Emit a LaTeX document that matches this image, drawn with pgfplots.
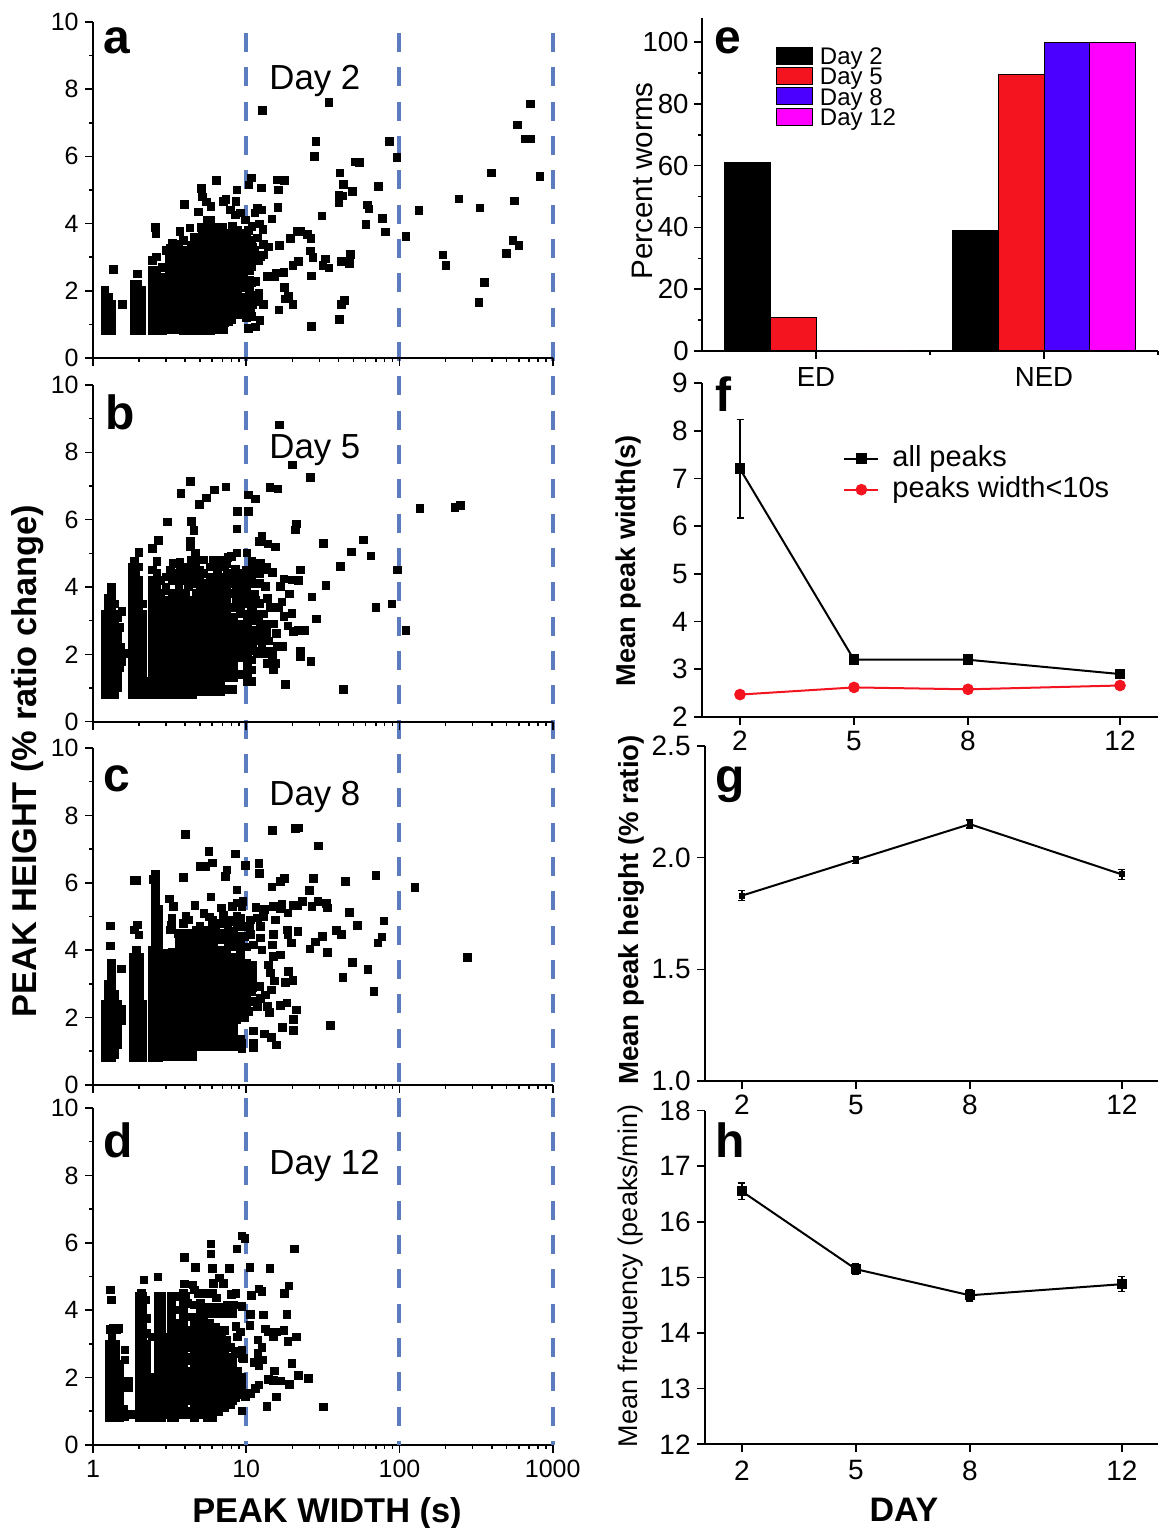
\documentclass[border=0pt]{standalone}
\usepackage{fontspec}
\setmainfont{Liberation Sans}
\usepackage{pgfplots}
\pgfplotsset{compat=1.18}
\pgfkeys{/pgf/number format/assume math mode=true}
\definecolor{dashc}{RGB}{91,124,190}
\definecolor{bred}{RGB}{243,20,32}
\definecolor{bblue}{RGB}{75,0,255}
\definecolor{bmag}{RGB}{255,0,255}
\newcommand\fs[1]{\fontsize{#1}{#1}\selectfont}
\newcommand\patch[1]{\addlegendimage{legend image code/.code={\filldraw[draw=black,fill=#1,line width=.5pt] (0pt,-3.1pt) rectangle (18pt,5.4pt); \node at (20.5pt,0){};}}}
\pgfplotsset{
 baseax/.style={scale only axis, axis lines=left, axis line style={-,line width=.85pt},
  tick align=outside, major tick length=4pt, minor tick length=2pt,
  tick style={black,line width=.8pt}, clip=false},
 leftax/.style={baseax, xmin=1, xmax=1000, ymin=0, ymax=10, ytick={0,2,4,6,8,10}, minor y tick num=1,
  xtick={1,10,100,1000}, width=229.85pt, height=168pt,
  ticklabel style={font=\fs{12.5}, inner sep=0pt},
  yticklabel style={xshift=-3pt}, xticklabel style={yshift=-3.5pt}},
 rightax/.style={baseax, xmin=1, xmax=13, xtick={2,5,8,12}, ticklabel style={font=\fs{14}, inner sep=0pt},
  yticklabel style={xshift=-3pt}, xticklabel style={yshift=-3pt}},
 sc/.style={only marks, mark=square*, mark size=1.9pt, black, mark options={draw=black,fill=black,line width=0pt}}
}
\begin{document}
\begin{tikzpicture}
\useasboundingbox (0,0) rectangle (579.5pt,764pt);
% ---------- d
\begin{axis}[xmode=log, leftax, at={(46.5pt,41.5pt)}, anchor=south west, height=168.5pt, xticklabels={1,10,100,1000}]
\addplot[color=dashc,line width=2pt,dash pattern=on 9.5pt off 7.67pt] coordinates {(10,41.9) (10,0)};
\addplot[color=dashc,line width=2pt,dash pattern=on 9.5pt off 7.67pt] coordinates {(100,41.9) (100,0)};
\addplot[color=dashc,line width=2pt,dash pattern=on 9.5pt off 7.67pt] coordinates {(1000,41.9) (1000,0)};
\addplot[sc] table {
1.28 0.8
1.28 1
1.28 1.2
1.28 1.4
1.28 1.6
1.28 1.8
1.28 2
1.28 2.2
1.33 0.8
1.33 1
1.33 1.2
1.33 1.4
1.33 1.6
1.33 1.8
1.33 2
1.33 2.2
1.33 2.4
1.33 2.6
1.33 2.8
1.33 3
1.33 3.2
1.4 0.8
1.4 1
1.4 1.2
1.4 1.4
1.4 1.6
1.4 1.8
1.4 2
1.4 2.2
1.4 2.4
1.4 2.6
1.5 0.8
1.5 1
1.5 1.2
1.5 1.4
1.5 1.6
1.5 1.8
1.5 2
1.5 2.2
1.3 4.6
1.32 4.3
1.3 3.42
1.36 3.45
1.42 3.42
1.47 3.45
1.62 2.82
1.62 2.52
1.71 1.7
1.7 1.88
1.62 0.85
1.8 0.9
1.58 1.05
2 0.8
2 1
2 1.2
2 1.4
2 1.6
2 1.8
2 2
2 2.2
2 2.4
2 2.6
2 2.8
2 3
2 3.2
2 3.4
2 3.6
2 3.8
2 4
2 4.2
2 4.4
2.12 0.8
2.12 1
2.12 1.2
2.12 1.4
2.12 1.6
2.12 1.8
2.12 2
2.12 2.2
2.12 2.4
2.12 2.6
2.12 2.8
2.12 3.4
2.12 4.4
2.08 4.5
2.25 0.8
2.25 1
2.25 1.2
2.25 1.4
2.25 1.6
2.25 1.8
2.25 3.3
2.25 3.76
2.2 4.3
2.42 0.8
2.42 1.2
2.42 1.6
2.42 1.8
2.42 2
2.42 3.2
2.65 0.8
2.65 1
2.65 1.2
2.65 1.4
2.65 1.6
2.65 1.8
2.65 2
2.65 2.2
2.65 2.4
2.65 2.6
2.65 2.8
2.65 3
2.65 3.2
2.65 3.4
2.65 3.6
2.65 3.8
2.65 4
2.65 4.2
2.65 4.4
2.8 0.8
2.8 1
2.8 1.2
2.8 1.4
2.8 1.6
2.8 1.8
2.8 2
2.8 2.2
2.8 2.4
2.8 2.6
2.8 2.8
2.8 3
2.8 3.2
3 0.9
3 1.3
3 1.7
3 2.1
3 2.5
3 2.9
3 3.2
3.25 0.8
3.25 1
3.25 1.2
3.25 1.4
3.25 1.6
3.25 1.8
3.25 2
3.25 2.2
3.25 2.4
3.25 2.6
3.25 2.8
3.25 3
3.25 3.2
3.25 3.4
3.25 3.6
3.25 3.8
3.25 4
3.25 4.2
3.25 4.4
3.4 0.8
3.4 1
3.4 1.2
3.4 1.4
3.4 1.6
3.4 1.8
3.4 2
3.4 2.2
3.4 2.4
3.4 2.8
3.4 3.2
3.4 3.6
3.4 4
3.4 4.4
3.65 1
3.65 1.4
3.65 1.8
3.65 2.2
3.65 2.6
3.9 0.9
3.9 1.1
3.9 1.3
3.9 1.5
3.9 1.7
3.9 1.9
3.9 2.1
3.9 2.3
3.9 2.5
3.9 2.7
3.9 2.9
3.9 3.1
3.9 3.3
3.9 3.5
3.9 3.7
3.9 3.9
3.9 4.1
3.9 4.3
3.9 4.5
4.15 1
4.15 1.6
4.15 2
4.15 2.6
4.15 3.2
4.15 3.8
4.15 4.2
3.95 5.56
3.97 4.78
4.6 0.8
4.6 1
4.6 1.2
4.6 1.4
4.6 1.6
4.6 1.8
4.6 2
4.6 2.2
4.6 2.4
4.6 2.6
4.6 2.8
4.6 3
4.6 3.2
4.6 3.4
4.6 3.6
4.6 3.8
4.6 4.16
4.66 5.27
4.5 4.75
4.6 4.6
4.9 4.5
5.3 4.5
5.05 0.9
5.05 1.2
5.05 1.4
5.05 1.6
5.05 1.8
5.05 2
5.05 2.2
5.05 2.4
5.05 2.6
5.05 2.8
5.05 3
5.05 3.2
5.05 3.4
5.05 3.8
5.55 0.8
5.55 1
5.55 1.2
5.55 1.4
5.55 1.6
5.55 1.8
5.55 2
5.55 2.2
5.55 2.4
5.55 2.6
5.55 2.8
5.55 3
5.55 3.2
5.55 3.4
5.55 3.9
5.55 4.1
6.05 0.8
6.05 1
6.05 1.2
6.05 1.4
6.05 1.6
6.05 1.8
6.05 2
6.05 2.2
6.05 2.4
6.05 2.6
6.05 2.8
6.05 3
6.05 3.2
6.05 3.5
6.05 3.9
6.05 4.1
6.05 4.5
6.6 1
6.6 1.2
6.6 1.4
6.6 1.6
6.6 1.8
6.6 2
6.6 2.2
6.6 2.4
6.6 2.6
6.6 2.8
6.6 3.4
6.6 3.9
7.2 1.1
7.2 1.3
7.2 1.5
7.2 1.7
7.2 1.9
7.2 2.1
7.2 2.3
7.2 2.5
7.2 2.7
7.2 2.9
7.2 3.1
7.2 3.4
7.9 1.2
7.9 1.4
7.9 1.6
7.9 1.8
7.9 2
7.9 2.2
7.9 2.4
7.9 2.9
8.6 1.4
8.6 1.6
8.6 1.8
8.6 2
9.4 1.5
9.4 1.7
9.4 1.9
9.4 6.2
9.8 6.13
8.7 5.82
5.9 5.96
5.9 5.67
20.7 5.82
6 5.23
7.8 5.24
10.6 5.27
14.3 5.24
2.15 4.9
2.65 4.98
6.7 4.95
6.1 4.8
7.1 4.8
19 4.72
17.8 4.5
12.1 4.63
12.7 4.55
10.8 4.44
8.6 4.5
8 4.46
18.5 3.88
13 3.86
10.7 3.88
10.6 3.54
8.6 3.51
9.2 3.35
13.4 3.44
14 3.35
15 3.22
15.9 3.35
17.6 3.39
21.3 3.21
18.7 3.07
11.9 3.12
12.7 2.89
11.9 2.72
12.8 2.52
11.3 2.45
12.1 2.36
19.9 2.42
15.3 2.19
21.9 2.06
25.4 1.98
14 1.95
15 1.92
16.7 1.9
19.2 1.8
32 1.13
15.7 1.43
13.7 1.14
9.4 1.01
12.1 1.78
11.5 1.68
10.7 1.53
9.9 1.44
9.2 1.88
9.6 2.57
9.4 2.82
8.5 2.77
7.7 2.57
8.7 2.18
9.4 4.11
8.3 4.16
7.5 4.16
6.8 3.96
6.4 4.36
1.28 2.4
1.28 2.6
1.28 2.8
1.28 3
1.4 2.8
1.4 3
1.5 2.4
2.12 3
2.12 3.2
2.12 3.6
2.12 3.8
2.12 4
2.12 4.2
2.25 2
2.25 2.2
2.25 2.4
2.25 2.6
2.25 2.8
2.25 3
2.35 0.9
2.35 1.1
2.35 1.3
2.35 1.5
2.35 1.9
2.8 3.4
2.8 3.6
2.8 3.8
2.8 4
2.8 4.2
2.8 4.4
3 1.1
3 1.5
3 1.9
3 2.3
3 2.7
3 3
3.55 1.2
3.55 1.6
3.55 2
3.55 2.4
3.55 2.8
3.55 3
3.55 3.4
4.05 1
4.05 1.4
4.05 1.8
4.05 2.2
4.05 2.6
4.05 3
4.05 3.4
4.05 3.8
4.05 4.2
4.05 4.4
4.3 0.9
4.3 1.3
4.3 1.7
4.3 2.1
4.3 2.5
4.3 2.9
4.85 1
4.85 1.4
4.85 1.8
4.85 2.2
4.85 2.6
4.85 3
4.85 3.4
4.85 3.8
5.05 3.6
5.05 4.05
5.05 4.2
5.3 1
5.3 1.4
5.3 1.8
5.3 2.2
5.3 2.6
5.3 3
5.3 3.3
5.3 3.5
5.3 3.7
5.3 4
5.8 1
5.8 1.4
5.8 1.8
5.8 2.2
5.8 2.6
5.8 3
5.8 3.3
5.8 3.6
5.8 3.9
5.8 4.1
6.3 1
6.3 1.4
6.3 1.8
6.3 2.2
6.3 2.6
6.3 3
6.3 3.3
6.3 3.5
6.3 3.9
6.3 4.1
6.9 1.1
6.9 1.5
6.9 1.9
6.9 2.3
6.9 2.7
6.9 3
6.9 3.2
6.9 3.4
6.9 3.9
6.9 4.1
7.5 1.2
7.5 1.6
7.5 2
7.5 2.4
7.5 2.6
7.5 3.1
7.5 3.9
7.5 4.1
8.2 1.3
8.2 1.7
8.2 2.1
8.2 2.3
8.2 2.5
8.2 3.9
8.2 4.1
8.8 1.5
8.8 1.8
8.8 2
8.8 2.2
8.8 2.7
8.8 3.2
9.4 2
9.4 2.6
};
\end{axis}
% ---------- c
\begin{axis}[xmode=log, leftax, at={(46.5pt,221.5pt)}, anchor=south west, height=168.5pt, xticklabels={}]
\addplot[sc] table {
1.2 0.8
1.2 1
1.2 1.2
1.2 1.4
1.2 1.6
1.2 1.8
1.2 2
1.2 2.2
1.2 2.4
1.26 0.8
1.26 1
1.26 1.2
1.26 1.4
1.26 1.6
1.26 1.8
1.26 2
1.26 2.2
1.26 2.4
1.26 2.6
1.26 2.8
1.26 3
1.32 0.8
1.32 1
1.32 1.2
1.32 1.4
1.32 1.6
1.32 1.8
1.32 2
1.32 2.2
1.32 2.4
1.32 2.6
1.32 2.8
1.32 3
1.32 3.2
1.32 3.4
1.32 3.6
1.39 0.9
1.39 1.1
1.39 1.3
1.39 1.5
1.39 1.7
1.39 1.9
1.39 2.1
1.39 2.3
1.39 2.5
1.39 2.7
1.46 1.2
1.46 1.4
1.46 1.6
1.46 1.8
1.46 2
1.46 2.2
1.46 2.4
1.55 1.9
1.55 2.1
1.55 2.25
1.3 4.72
1.3 4.13
1.53 3.44
1.82 0.8
1.82 1
1.82 1.2
1.82 1.4
1.82 1.6
1.82 1.8
1.82 2
1.82 2.2
1.82 2.4
1.82 2.6
1.82 2.8
1.82 3
1.82 3.2
1.82 3.4
1.82 3.6
1.82 3.8
1.92 0.8
1.92 1
1.92 1.2
1.92 1.4
1.92 1.6
1.92 1.8
1.92 2
1.92 2.2
1.92 2.4
1.92 2.6
1.92 2.8
1.92 3
1.92 3.2
1.92 3.4
1.92 3.6
1.92 3.8
1.92 4
2.02 0.8
2.02 1
2.02 1.2
2.02 1.4
2.02 1.6
2.02 1.8
2.02 2
2.02 2.2
2.02 2.4
2.02 2.6
2.02 2.8
2.02 3
2.02 3.2
2.02 3.4
2.02 3.6
2.02 3.8
2.12 0.8
2.12 1
2.12 1.2
2.12 1.4
2.12 1.6
2.12 1.8
2.12 2
2.12 2.2
2.12 2.4
1.86 6.07
1.92 6.07
1.96 4.75
1.86 4.6
2 4.45
2.45 0.8
2.45 1
2.45 1.2
2.45 1.4
2.45 1.6
2.45 1.8
2.45 2
2.45 2.2
2.45 2.4
2.45 2.6
2.45 2.8
2.45 3
2.45 3.2
2.45 3.4
2.45 3.6
2.45 3.8
2.45 4
2.55 0.8
2.55 1
2.55 1.2
2.55 1.4
2.55 1.6
2.55 1.8
2.55 2
2.55 2.2
2.55 2.4
2.55 2.6
2.55 2.8
2.55 3
2.55 3.2
2.55 3.4
2.55 3.6
2.55 3.8
2.55 4
2.55 4.2
2.55 4.4
2.55 4.6
2.55 4.8
2.55 5
2.55 5.2
2.55 5.4
2.55 5.6
2.55 5.8
2.55 6
2.55 6.25
2.47 6.1
2.68 0.8
2.68 1
2.68 1.2
2.68 1.4
2.68 1.6
2.68 1.8
2.68 2
2.68 2.2
2.68 2.4
2.68 2.6
2.68 2.8
2.68 3
2.68 3.2
2.68 3.4
2.68 3.6
2.68 3.8
2.68 4
2.68 4.2
2.68 4.4
2.68 4.6
2.68 4.8
2.68 5
2.68 5.2
3 0.85
3 1.1
3 1.3
3 1.5
3 1.7
3 1.9
3 2.1
3 2.3
3 2.5
3 2.7
3 2.9
3 3.1
3 3.3
3 3.5
3 3.7
3 3.9
3.3 0.85
3.3 1.1
3.3 1.3
3.3 1.5
3.3 1.7
3.3 1.9
3.3 2.1
3.3 2.3
3.3 2.5
3.3 2.7
3.3 2.9
3.3 3.1
3.3 3.3
3.3 3.5
3.3 3.7
3.3 3.95
3.16 5.52
3.36 5.3
3.27 4.95
3.2 4.6
3.25 4.75
3.65 0.85
3.65 1.1
3.65 1.3
3.65 1.5
3.65 1.7
3.65 1.9
3.65 2.1
3.65 2.3
3.65 2.5
3.65 2.7
3.65 2.9
3.65 3.1
3.65 3.3
3.65 3.5
3.65 3.7
3.65 3.9
3.65 4.1
3.65 4.3
4.05 0.85
4.05 1.1
4.05 1.3
4.05 1.5
4.05 1.7
4.05 1.9
4.05 2.1
4.05 2.3
4.05 2.5
4.05 2.7
4.05 2.9
4.05 3.1
4.05 3.3
4.05 3.5
4.05 3.7
4.05 3.9
4.05 4.1
4.05 4.3
4.05 5
4.5 0.85
4.5 1.1
4.5 1.3
4.5 1.5
4.5 1.7
4.5 1.9
4.5 2.1
4.5 2.3
4.5 2.5
4.5 2.7
4.5 2.9
4.5 3.1
4.5 3.3
4.5 3.5
4.5 3.7
4.5 3.9
4.5 4.1
4.5 4.3
4.5 4.5
5 1.15
5 1.35
5 1.55
5 1.75
5 1.95
5 2.15
5 2.35
5 2.55
5 2.75
5 2.95
5 3.15
5 3.35
5 3.55
5 3.75
5 3.95
5 4.2
5.55 1.15
5.55 1.35
5.55 1.55
5.55 2.15
5.55 2.35
5.55 2.55
5.55 2.75
5.55 2.95
5.55 3.15
5.55 3.35
5.55 3.55
5.55 3.95
5.55 4.15
5.55 4.4
6.15 1.15
6.15 1.35
6.15 1.55
6.15 2
6.15 2.2
6.15 2.4
6.15 2.6
6.15 2.8
6.15 3
6.15 3.2
6.15 3.4
6.15 3.6
6.15 3.8
6.15 4
6.15 4.2
6.15 4.5
6.8 1.15
6.8 1.35
6.8 1.55
6.8 2
6.8 2.2
6.8 2.4
6.8 2.6
6.8 2.8
6.8 3
6.8 3.2
6.8 3.4
6.8 3.6
6.8 3.8
6.8 4
6.8 4.3
7.5 1.15
7.5 1.35
7.5 1.55
7.5 1.75
7.5 2
7.5 2.2
7.5 2.4
7.5 2.6
7.5 2.8
7.5 3
7.5 3.2
7.5 3.4
7.5 3.6
7.5 3.8
7.5 4
8.3 1.15
8.3 1.35
8.3 1.55
8.3 1.75
8.3 2
8.3 2.4
8.3 2.6
8.3 2.8
8.3 3
8.3 3.2
8.3 3.4
8.3 3.6
8.3 3.8
9.2 1.15
9.2 1.35
9.2 2.3
9.2 2.5
9.2 2.7
9.2 2.9
9.2 3.1
9.2 3.3
9.2 3.5
9.2 3.8
9.2 4
9.2 4.4
10 2.4
10 2.6
10 2.8
10 3
10 3.2
10 3.6
10 4.1
11 2.9
11 3.1
11 3.3
11 3.55
4.03 7.43
14.8 7.55
20.9 7.62
22.1 7.63
29.7 7.09
5.7 6.92
8.5 6.85
6 6.59
5 6.48
5.4 6.48
9.9 6.52
12.1 6.57
12.2 6.27
7.5 6.38
7.3 6.18
3.9 6.16
70.4 6.22
126 5.86
44.4 6.04
27.6 6.13
17.8 6.13
16.7 6.03
14.7 5.87
25.8 5.77
8.7 5.79
5.9 5.58
4.63 5.32
6.9 5.25
5.3 5.09
5.75 4.98
8.1 5.3
8.7 5.4
9.5 5.45
9.4 5.3
11.6 5.27
13.1 5.2
15.1 5.3
17.1 5.35
16.6 5.23
18.7 5.1
20.4 5.32
21.7 5.33
23.3 5.45
26.9 5.3
29.4 5.45
33.4 5.38
33.9 5.25
47.2 5.12
53 4.74
79.4 4.87
77 4.39
72.6 4.21
38.8 4.58
41.8 4.46
31.4 4.4
28.3 4.24
26.1 4.04
33.9 3.94
21.8 4.56
18.6 4.6
18.7 4.46
19.7 4.21
49.3 3.63
62.4 3.43
42.7 3.19
68 2.77
35.4 1.76
279 3.79
18.8 3.36
20.2 3.1
18 3.04
21.2 2.22
18.5 2.43
16.7 2.36
20.4 1.95
17.3 1.71
20.3 1.62
15.7 1.19
14.6 1.41
13.1 1.51
11.2 1.6
11.2 1.24
11.2 1.11
14.2 2.16
13.8 2.33
11.8 2.33
12.4 2.57
12.2 2.92
14.6 2.82
13.3 2.67
15.3 3.09
14.4 3.32
14 3.56
16.7 3.86
15.1 3.81
14.9 4.16
15.1 4.46
12.7 4.01
11.2 4.16
12.4 4.36
10.7 4.46
12.4 4.7
11.8 4.95
13 5
15.5 4.9
10.7 4.9
9.2 4.95
8.1 4.85
8.3 4.55
7.1 5.05
6.3 4.7
9.4 2.28
8.7 1.93
10.4 2.18
10.9 2.48
10.9 2.77
10.7 3.27
10.4 3.56
9.4 1.24
9.4 1.09
3.6 4.5
3.9 4.5
3.9 4.8
4.2 4.5
4.2 4.9
4.7 4.3
4.7 4.6
5 4.4
5 4.7
5.3 4.4
5.3 4.6
5.6 4.6
6 4.3
6 4.7
6 4.9
6.5 4.5
6.8 4.5
6.8 4.8
7.2 4.3
7.2 4.5
7.2 4.9
7.6 4.2
7.6 4.5
7.6 4.7
8 4.1
8 4.3
8 4.9
8.7 3.8
8.7 4.1
8.7 4.3
8.7 4.7
8.7 5
9.2 3.6
9.2 4.2
9.8 4.4
9.8 4.7
10.5 2.9
10.5 4.7
10.5 3.4
10.5 3.2
5.55 1.75
5.55 1.95
5.55 3.75
6.15 1.75
6.8 1.75
8.3 2.2
9.2 2.1
9.8 2
9.8 2.3
9.8 2.6
};
\end{axis}
% ---------- b
\begin{axis}[xmode=log, leftax, at={(46.5pt,403.15pt)}, anchor=south west, height=168.35pt, xticklabels={}]
\addplot[sc] table {
1.2 0.8
1.2 1
1.2 1.2
1.2 1.4
1.2 1.6
1.2 1.8
1.2 2
1.2 2.2
1.2 2.4
1.2 2.6
1.2 2.8
1.2 3
1.2 3.2
1.26 0.8
1.26 1
1.26 1.2
1.26 1.4
1.26 1.6
1.26 1.8
1.26 2
1.26 2.2
1.26 2.4
1.26 2.6
1.26 2.8
1.26 3
1.26 3.2
1.26 3.4
1.26 3.65
1.32 0.8
1.32 1
1.32 1.2
1.32 1.4
1.32 1.6
1.32 1.8
1.32 2
1.32 2.2
1.32 2.4
1.32 2.6
1.32 2.8
1.32 3
1.32 3.2
1.32 3.4
1.32 3.6
1.32 3.8
1.32 4
1.39 0.8
1.39 1
1.39 1.2
1.39 1.4
1.39 1.6
1.39 1.8
1.39 2
1.39 2.2
1.39 2.4
1.39 2.6
1.39 2.8
1.39 3
1.39 3.2
1.39 3.5
1.46 1
1.46 1.2
1.46 1.4
1.46 1.6
1.46 1.8
1.46 2
1.46 2.2
1.46 2.4
1.46 2.6
1.46 3.1
1.55 3.27
1.59 2.03
1.55 1.78
1.8 0.8
1.8 1
1.8 1.2
1.8 1.4
1.8 1.6
1.8 1.8
1.8 2
1.8 2.2
1.8 2.4
1.8 2.6
1.8 2.8
1.8 3
1.8 3.2
1.8 3.4
1.8 3.6
1.8 3.8
1.8 4
1.8 4.2
1.8 4.4
1.8 4.6
1.86 4.75
1.9 0.8
1.9 1
1.9 1.2
1.9 1.4
1.9 1.6
1.9 1.8
1.9 2
1.9 2.2
1.9 2.4
1.9 2.6
1.9 2.8
1.9 3
1.9 3.2
1.9 3.4
1.9 3.6
1.9 3.8
1.9 4
1.9 4.2
1.9 4.4
2 0.8
2 1
2 1.2
2 1.4
2 1.6
2 1.8
2 2
2 2.2
2 2.4
2 2.6
2 2.8
2 3
2 3.2
2 3.4
2 3.6
2 3.8
2 4
2 4.2
2 4.6
2 5.03
2.12 0.8
2.12 1
2.12 1.2
2.12 1.4
2.12 1.6
2.12 1.8
2.12 2
2.12 2.2
2.12 2.4
2.12 2.6
2.12 2.8
2.12 3
2.12 3.2
2.12 3.5
2.45 0.8
2.45 1
2.45 1.2
2.45 1.4
2.45 1.6
2.45 1.8
2.45 2
2.45 2.2
2.45 2.4
2.45 2.6
2.45 2.8
2.45 3
2.45 3.2
2.45 3.4
2.45 3.6
2.45 3.8
2.45 4
2.45 4.2
2.45 4.5
2.62 0.8
2.62 1
2.62 1.2
2.62 1.4
2.62 1.6
2.62 1.8
2.62 2
2.62 2.2
2.62 2.4
2.62 2.6
2.62 2.8
2.62 3
2.62 3.2
2.62 3.4
2.62 3.6
2.62 3.8
2.62 4
2.62 4.2
2.62 4.4
2.62 4.75
2.78 0.8
2.78 1
2.78 1.2
2.78 1.4
2.78 1.6
2.78 1.8
2.78 2
2.78 2.2
2.78 2.4
2.78 2.6
2.78 2.8
2.78 3
2.78 3.2
2.78 3.4
2.78 3.6
2.78 3.8
2.78 4.2
3 0.8
3 1
3 1.2
3 1.4
3 1.6
3 1.8
3 2
3 2.2
3 2.4
3 2.6
3 2.8
3 3
3 3.2
3 3.4
3 3.6
3 3.9
3.3 0.8
3.3 1
3.3 1.2
3.3 1.4
3.3 1.6
3.3 1.8
3.3 2
3.3 2.2
3.3 2.4
3.3 2.6
3.3 2.8
3.3 3
3.3 3.2
3.3 3.4
3.3 3.6
3.3 3.8
3.3 4.2
3.36 4.7
3.65 0.8
3.65 1
3.65 1.2
3.65 1.4
3.65 1.6
3.65 1.8
3.65 2
3.65 2.2
3.65 2.4
3.65 2.6
3.65 2.8
3.65 3
3.65 3.2
3.65 3.4
3.65 3.6
3.65 3.8
3.65 4
3.65 4.2
3.65 4.4
3.7 4.72
4.05 0.8
4.05 1
4.05 1.2
4.05 1.4
4.05 1.6
4.05 1.8
4.05 2
4.05 2.2
4.05 2.4
4.05 2.6
4.05 2.8
4.05 3
4.05 3.2
4.05 3.4
4.05 3.6
4.05 3.8
4.05 4.2
4.05 4.4
4.5 0.8
4.5 1
4.5 1.2
4.5 1.4
4.5 1.6
4.5 1.8
4.5 2
4.5 2.2
4.5 2.4
4.5 2.6
4.5 2.8
4.5 3
4.5 3.2
4.5 3.4
4.5 3.6
4.5 4.1
4.5 4.3
4.5 4.6
5 0.9
5 1.1
5 1.3
5 1.5
5 1.7
5 1.9
5 2.1
5 2.3
5 2.5
5 2.7
5 2.9
5 3.1
5 3.3
5 3.5
5 3.7
5 4.1
5 4.3
5 4.5
5 4.8
5.55 0.9
5.55 1.1
5.55 1.3
5.55 1.5
5.55 1.7
5.55 1.9
5.55 2.1
5.55 2.3
5.55 2.5
5.55 2.7
5.55 2.9
5.55 3.1
5.55 3.3
5.55 3.5
5.55 3.7
5.55 3.9
6.15 0.9
6.15 1.1
6.15 1.3
6.15 1.5
6.15 1.7
6.15 1.9
6.15 2.1
6.15 2.3
6.15 2.5
6.15 2.7
6.15 2.9
6.15 3.1
6.15 3.3
6.15 3.5
6.15 3.7
6.15 3.9
6.15 4.3
6.15 4.6
6.8 0.9
6.8 1.1
6.8 1.3
6.8 1.5
6.8 1.7
6.8 1.9
6.8 2.1
6.8 2.3
6.8 2.5
6.8 2.7
6.8 2.9
6.8 3.1
6.8 3.3
6.8 3.5
6.8 3.7
6.8 3.9
6.8 4.3
6.8 4.6
7.5 0.95
7.5 1.3
7.5 1.5
7.5 1.7
7.5 1.9
7.5 2.1
7.5 2.3
7.5 2.5
7.5 2.7
7.5 2.9
7.5 3.1
7.5 3.3
7.5 3.5
7.5 3.7
7.5 3.9
7.5 4.1
7.5 4.4
8.3 1.3
8.3 1.5
8.3 1.7
8.3 1.9
8.3 2.1
8.3 2.3
8.3 2.5
8.3 2.7
8.3 2.9
8.3 3.1
8.3 3.4
8.3 3.8
8.3 4.1
9.2 1.4
9.2 1.9
9.2 2.1
9.2 2.3
9.2 2.5
9.2 2.7
9.2 2.9
9.2 3.2
9.2 3.6
9.2 4
10.2 1.2
10.2 1.4
10.2 1.6
10.2 1.8
10.2 2
10.2 2.2
10.2 2.4
10.2 2.6
10.2 2.8
10.2 3
10.2 3.2
10.2 3.5
10.2 4.2
11 2.1
11 2.3
11 2.5
11 2.7
11 3
11 3.4
12 2.1
12 2.4
12 2.7
12 3
13.5 2.1
13.5 2.4
13.5 2.7
16.5 8.81
20.1 7.62
26.2 7.26
4.34 7.14
3.75 6.77
6.2 6.88
5.5 6.64
4.95 6.45
7.4 6.97
14.3 6.96
16.1 6.91
10.3 6.73
11.5 6.61
8.8 6.25
10.3 6.25
3.07 5.93
4.39 5.94
4.56 5.68
8.7 5.72
21.3 5.87
20.9 5.69
2.68 5.38
2.45 5.15
4.32 5.35
4.32 5.2
4.66 5
8.7 5.01
10.1 5.01
12.7 5.5
12.2 5.35
13.9 5.28
15.5 5.19
32 5.29
48.6 5.04
58.2 5.4
65.3 4.92
41.2 4.61
97 4.5
136 6.33
230 6.36
250 6.42
33.2 4.04
26.9 3.7
70.4 3.39
89.6 3.49
110 2.71
28.7 3.05
43.3 0.95
18 1.1
26.4 1.78
22.6 1.93
22.6 2.08
24.1 2.7
22 2.7
20.4 2.67
19.9 3.22
17.6 3.12
18.7 2.84
19.1 3.79
22.6 4.5
22 4.19
20.1 4.21
17.6 4.24
16.7 4.01
17.1 3.56
16.3 3.4
14.4 3.4
13.8 3.66
13.3 4.01
14.8 4.43
13.7 4.6
12.4 4.7
10.9 4.75
12.2 3.51
11.4 3.79
17.3 2.23
15.9 2.23
15.7 2.62
13.7 2.62
15.5 1.73
13.7 1.73
15.1 1.55
14.8 1.98
13.3 2.03
12.4 2.82
12.7 2.33
11.8 2.03
10.9 1.83
10.9 1.53
10.9 1.19
8.2 0.96
6.1 4.8
7.6 4.88
6.8 4.75
8.5 4.52
3 4
3 4.3
3.2 4.3
3.2 4.5
3.4 4.4
3.7 4.6
3.9 4.6
4.2 4
4.2 4.6
4.4 4.4
4.4 4.8
4.7 3.8
4.7 4.4
4.7 4.7
5 3.9
5.3 4.1
5.3 4.4
5.3 4.8
5.8 4.1
5.8 4.3
5.8 4.6
6.15 4.1
6.5 4.2
6.5 4.5
6.5 4.8
6.8 4.1
7.2 4.3
7.2 4.6
7.2 4.8
7.5 4.7
8 4.2
8 4.4
8 4.9
8.6 3.5
8.6 3.7
8.6 4
8.6 4.3
8.6 4.5
9.2 3.4
9.2 3.8
9.2 4.2
9.2 4.4
10 3.6
10 3.8
10 4
10 4.3
10 4.5
10.8 3.1
10.8 3.3
10.8 3.6
10.8 4.2
10.8 4.5
11.5 3.2
11.5 3.6
11.5 4.1
11.5 4.4
11.5 4.6
12.2 2.1
12.2 2.55
12.2 3.2
12.2 4.1
12.2 4.4
13 2.9
13 3.2
13 4.5
14 2.4
14 2.9
14 2.1
15 2.9
1.5 2.8
1.5 1.6
1.52 2.2
2.2 0.8
2.2 1
2.2 1.2
};
\end{axis}
% ---------- a
\begin{axis}[xmode=log, leftax, at={(46.5pt,585pt)}, anchor=south west, xticklabels={}]
\addplot[sc] table {
1.2 0.8
1.2 1
1.2 1.2
1.2 1.4
1.2 1.6
1.2 1.8
1.2 2
1.27 0.8
1.27 1
1.27 1.2
1.27 1.4
1.27 1.6
1.27 1.8
1.33 0.8
1.33 1
1.33 1.2
1.33 1.4
1.33 1.6
1.36 2.64
1.56 1.6
1.85 0.8
1.85 1
1.85 1.2
1.85 1.4
1.85 1.6
1.85 1.8
1.85 2
1.85 2.2
1.95 0.8
1.95 1
1.95 1.2
1.95 1.4
1.95 1.6
1.95 1.8
1.95 2
1.95 2.2
1.95 2.5
2.07 0.8
2.07 1
2.07 1.2
2.07 1.4
2.07 1.6
2.07 1.8
2.07 2
2.45 0.8
2.45 1
2.45 1.2
2.45 1.4
2.45 1.6
2.45 1.8
2.45 2
2.45 2.2
2.45 2.4
2.45 2.6
2.45 2.9
2.6 0.8
2.6 1
2.6 1.2
2.6 1.4
2.6 1.6
2.6 1.8
2.6 2
2.6 2.2
2.6 2.4
2.6 2.6
2.6 3
2.85 0.8
2.85 1
2.85 1.2
2.85 1.4
2.85 1.6
2.85 1.8
2.85 2
2.85 2.2
2.85 2.4
2.85 2.7
3.15 0.85
3.15 1.05
3.15 1.25
3.15 1.45
3.15 1.65
3.15 1.85
3.15 2.05
3.15 2.25
3.15 2.45
3.15 2.65
3.15 2.85
3.15 3.05
3.5 0.85
3.5 1.05
3.5 1.25
3.5 1.45
3.5 1.65
3.5 1.85
3.5 2.05
3.5 2.25
3.5 2.45
3.5 2.65
3.5 2.85
3.5 3.15
3.9 0.8
3.9 1
3.9 1.2
3.9 1.4
3.9 1.6
3.9 1.8
3.9 2
3.9 2.2
3.9 2.4
3.9 2.6
3.9 2.8
3.9 3
4.35 0.8
4.35 1
4.35 1.2
4.35 1.4
4.35 1.6
4.35 1.8
4.35 2
4.35 2.2
4.35 2.4
4.35 2.6
4.35 2.8
4.35 3
4.35 3.35
4.8 0.8
4.8 1
4.8 1.2
4.8 1.4
4.8 1.6
4.8 1.8
4.8 2
4.8 2.2
4.8 2.4
4.8 2.6
4.8 2.8
4.8 3
4.8 3.2
5.3 0.8
5.3 1
5.3 1.2
5.3 1.4
5.3 1.6
5.3 1.8
5.3 2
5.3 2.2
5.3 2.4
5.3 2.6
5.3 2.8
5.3 3
5.3 3.2
5.3 3.4
5.3 3.6
5.85 0.8
5.85 1
5.85 1.2
5.85 1.4
5.85 1.6
5.85 1.8
5.85 2
5.85 2.2
5.85 2.4
5.85 2.6
5.85 2.8
5.85 3
5.85 3.2
5.85 3.4
5.85 3.6
5.85 3.8
6.5 0.85
6.5 1.05
6.5 1.25
6.5 1.45
6.5 1.65
6.5 1.85
6.5 2.05
6.5 2.25
6.5 2.45
6.5 2.65
6.5 2.85
6.5 3.05
6.5 3.25
6.5 3.45
6.5 3.65
7.2 1.05
7.2 1.25
7.2 1.45
7.2 1.65
7.2 1.85
7.2 2.05
7.2 2.25
7.2 2.45
7.2 2.65
7.2 2.85
7.2 3.05
7.2 3.25
7.2 3.65
8 1.15
8 1.35
8 1.55
8 1.75
8 1.95
8 2.25
8 2.45
8 2.65
8 2.85
8 3.05
8 3.25
8 3.5
8.8 1.3
8.8 1.5
8.8 1.7
8.8 1.9
8.8 2.4
8.8 2.6
8.8 2.8
8.8 3
8.8 3.2
8.8 3.4
9.6 1.4
9.6 1.6
9.6 1.8
9.6 2.1
9.6 2.5
9.6 2.7
9.6 2.9
9.6 3.1
9.6 3.4
9.6 3.7
10.5 1.4
10.5 1.6
10.5 1.8
10.5 2.6
10.5 2.85
10.5 3.1
10.5 3.4
12.8 7.37
34.6 7.61
28.6 6.45
27.9 6
86 6.44
96.6 5.97
51.4 5.83
55 5.81
40.8 5.5
43.3 5.16
49.3 4.95
73.3 5.1
40.2 4.84
42.9 4.82
40.2 4.62
62 4.55
63.4 4.44
77.8 4.16
60.6 3.97
81 3.75
31.3 4.22
110 3.61
134 4.39
244 4.73
336 4.46
398 5.51
563 4.67
589 6.93
716 7.56
665 6.52
720 6.52
828 5.41
552 3.49
601 3.35
500 3.11
192 3.06
201 2.75
359 2.25
330 1.66
48 3.08
47.2 2.82
41.8 2.88
34.6 2.68
32.9 2.95
31.6 2.76
27.3 2.99
26.2 3.19
26.5 3.56
25.2 3.67
22.8 3.77
21.5 3.77
19.5 3.56
21.9 2.88
20.2 2.76
26.6 2.44
17.8 2.09
18.9 1.85
18.1 1.75
20.2 1.6
16.4 1.43
43.7 1.71
41.8 1.6
40.6 1.14
26.6 0.94
17.6 2.55
15.7 2.53
13.7 2.43
15.3 2.43
16.5 3.35
14.7 4.14
16.1 4.48
16.3 5
15.9 5.3
17.8 5.29
12.6 5.06
10.8 5.36
10.4 5.15
8.7 5
6.4 5.29
5.1 5.04
3.95 4.57
4.9 4.35
5.2 4.79
5.5 4.64
5.9 4.51
7.1 4.66
7.4 4.71
8.6 4.66
7.9 4.41
8.5 4.26
9.2 4.31
11.8 4.46
12.7 4.41
11.4 4.31
12.2 3.99
12.9 3.82
5.9 4.11
9.9 4.11
10.9 3.91
5.1 3.88
4.3 3.87
3.7 3.77
2.55 3.89
2.57 3.7
3.2 3.27
3.6 3.37
4.5 3.34
8.1 3.91
6.8 3.82
11.8 3.57
13 3.37
14 3.3
12.4 3.02
13 3.07
10.9 2.73
10.9 2.23
11.5 2.28
12.1 1.93
10.9 1.88
12.1 1.68
13 1.59
10.7 1.34
10.9 1.24
12.3 1.12
11.5 0.92
10.3 0.88
7.1 0.84
7.7 1.09
3 3.2
3.3 3.4
3.6 3.1
3.9 3.2
3.9 3.5
4.2 3.1
4.6 3.2
4.6 3.6
4.9 3.4
4.9 3.6
5.2 3.8
5.5 3.9
5.6 4.1
5.5 3.5
6.1 3.9
6.3 3.7
6.8 3.4
6.8 3.6
7 3.9
7.5 3.5
7.5 3.7
7.9 3.7
8.5 3.6
8.8 3.8
9.2 3.6
9.9 3.3
10 3.6
10.3 3.8
10.8 3.5
11 3.3
11.4 3.2
11 3
11.4 2.9
12 2.9
10.5 2.3
10.5 2.1
9.6 2.3
8.8 2.1
8.8 2.25
8 2.1
10.5 2
11 1.6
11.5 1.8
10 1.2
};
\end{axis}
% ---------- e
\begin{axis}[baseax, at={(351pt,588.5pt)}, anchor=south west, width=228pt, height=166.5pt,
  xmin=0.5, xmax=2.5, ymin=0, ymax=107.8, ytick={0,20,40,60,80,100}, minor y tick num=1,
  xtick={1,2}, xticklabels={ED,NED}, minor xtick={1.5,2.5},
  ticklabel style={font=\fs{13.8}, inner sep=0pt}, yticklabel style={xshift=-2.5pt}, xticklabel style={yshift=-4pt},
  ybar=0pt, bar width=0.2,
  legend style={draw=none, fill=none, at={(0.1616,0.915)}, anchor=north west, font=\fs{12},
    inner sep=0pt, row sep=-0.75pt, nodes={inner sep=0pt, text height=8.6pt, text depth=1.9pt}},
  legend cell align=left]
\addplot[fill=black,draw=black,line width=.5pt,forget plot,bar shift=-0.3] coordinates {(1,61) (2,39)};
\addplot[fill=bred,draw=black,line width=.5pt,forget plot,bar shift=-0.1] coordinates {(1,10.7) (2,89.4)};
\addplot[fill=bblue,draw=black,line width=.5pt,forget plot,bar shift=0.1] coordinates {(1,0) (2,100)};
\addplot[fill=bmag,draw=black,line width=.5pt,forget plot,bar shift=0.3] coordinates {(1,0) (2,100)};
\patch{black}
\addlegendentry{Day 2}
\patch{bred}
\addlegendentry{Day 5}
\patch{bblue}
\addlegendentry{Day 8}
\patch{bmag}
\addlegendentry{Day 12}
\end{axis}
% ---------- f
\begin{axis}[rightax, at={(351pt,405.5pt)}, anchor=south west, width=228pt, height=167pt,
  ymin=2, ymax=9, ytick={2,3,4,5,6,7,8,9},
  legend style={draw=none, fill=none, at={(0.309,0.727)}, anchor=west, font=\fs{14.5},
    inner sep=0pt, row sep=1.5pt, nodes={inner sep=0pt, text height=11pt, text depth=3pt}},
  legend cell align=left]
\addplot[black,line width=1pt,mark=square*,mark size=2.2pt,
  error bars/.cd, y dir=both, y explicit, error bar style={line width=.7pt,black}, error mark options={rotate=90,mark size=1.75pt,line width=.7pt}]
  coordinates {(2,7.2) +- (0,1.03) (5,3.2) +- (0,0.08) (8,3.2) +- (0,0.08) (12,2.9) +- (0,0.05)};
\addplot[bred,line width=1pt,mark=*,mark size=2.4pt] coordinates {(2,2.47) (5,2.62) (8,2.58) (12,2.66)};
\addlegendentry{\hspace{6.5pt}all peaks}
\addlegendentry{\hspace{6.5pt}peaks width<10s}
\end{axis}
% ---------- g
\begin{axis}[rightax, at={(352.5pt,223.5pt)}, anchor=south west, width=226.5pt, height=167.5pt,
  xmin=1.03, xmax=12.95, ymin=1, ymax=2.5, ytick={1,1.5,2,2.5},
  yticklabel style={/pgf/number format/.cd,fixed,fixed zerofill,precision=1}]
\addplot[black,line width=1pt,mark=square*,mark size=1pt,
  error bars/.cd, y dir=both, y explicit, error bar style={line width=.7pt,black}, error mark options={rotate=90,mark size=1.75pt,line width=.7pt}]
  coordinates {(2,1.83) +- (0,0.022) (5,1.99) +- (0,0.015) (8,2.15) +- (0,0.018) (12,1.925) +- (0,0.022)};
\end{axis}
% ---------- h
\begin{axis}[rightax, at={(352.5pt,41.85pt)}, anchor=south west, width=226.5pt, height=166.8pt,
  xmin=1.03, xmax=12.95, ymin=12, ymax=18, ytick={12,13,14,15,16,17,18},
  xticklabel style={yshift=-1pt}]
\addplot[black,line width=1pt,mark=square*,mark size=2pt,
  error bars/.cd, y dir=both, y explicit, error bar style={line width=.7pt,black}, error mark options={rotate=90,mark size=1.75pt,line width=.7pt}]
  coordinates {(2,16.55) +- (0,0.15) (5,15.15) +- (0,0.1) (8,14.68) +- (0,0.1) (12,14.88) +- (0,0.135)};
\end{axis}
% ---------- text
\begin{scope}[x=0.5pt,y=-0.5pt,yshift=764pt]
\tikzset{n/.style={inner sep=0pt,anchor=base west}}
\node[n,font=\fs{24}\bfseries] at (103.5,54) {a};
\node[n,font=\fs{24}\bfseries] at (105,430) {b};
\node[n,font=\fs{24}\bfseries] at (103,792) {c};
\node[n,font=\fs{24}\bfseries] at (103,1158) {d};
\node[n,font=\fs{24}\bfseries] at (714,54) {e};
\node[n,font=\fs{24}\bfseries] at (715,412) {f};
\node[n,font=\fs{24}\bfseries] at (715,793) {g};
\node[n,font=\fs{24}\bfseries] at (715,1158) {h};
\node[n,font=\fs{17.4}] at (269,90) {Day 2};
\node[n,font=\fs{17.4}] at (269,459) {Day 5};
\node[n,font=\fs{17.4}] at (269,806) {Day 8};
\node[n,font=\fs{17.4}] at (269,1175) {Day 12};
\node[inner sep=0pt,rotate=90,font=\fs{17.2}\bfseries] at (28,761) {PEAK HEIGHT (\% ratio change)};
\node[inner sep=0pt,anchor=base,font=\fs{17.2}\bfseries] at (327,1523) {PEAK WIDTH (s)};
\node[inner sep=0pt,anchor=base,font=\fs{17}\bfseries] at (904,1522) {DAY};
\node[inner sep=0pt,rotate=90,font=\fs{14.8}] at (642,181) {Percent worms};
\node[inner sep=0pt,rotate=90,font=\fs{13.6}\bfseries] at (628,561) {Mean peak width(s)};
\node[inner sep=0pt,rotate=90,font=\fs{13.8}\bfseries] at (631,910) {Mean peak height (\% ratio)};
\node[inner sep=0pt,rotate=90,font=\fs{13.5}] at (631,1276) {Mean frequency (peaks/min)};
\end{scope}
\end{tikzpicture}
\end{document}
